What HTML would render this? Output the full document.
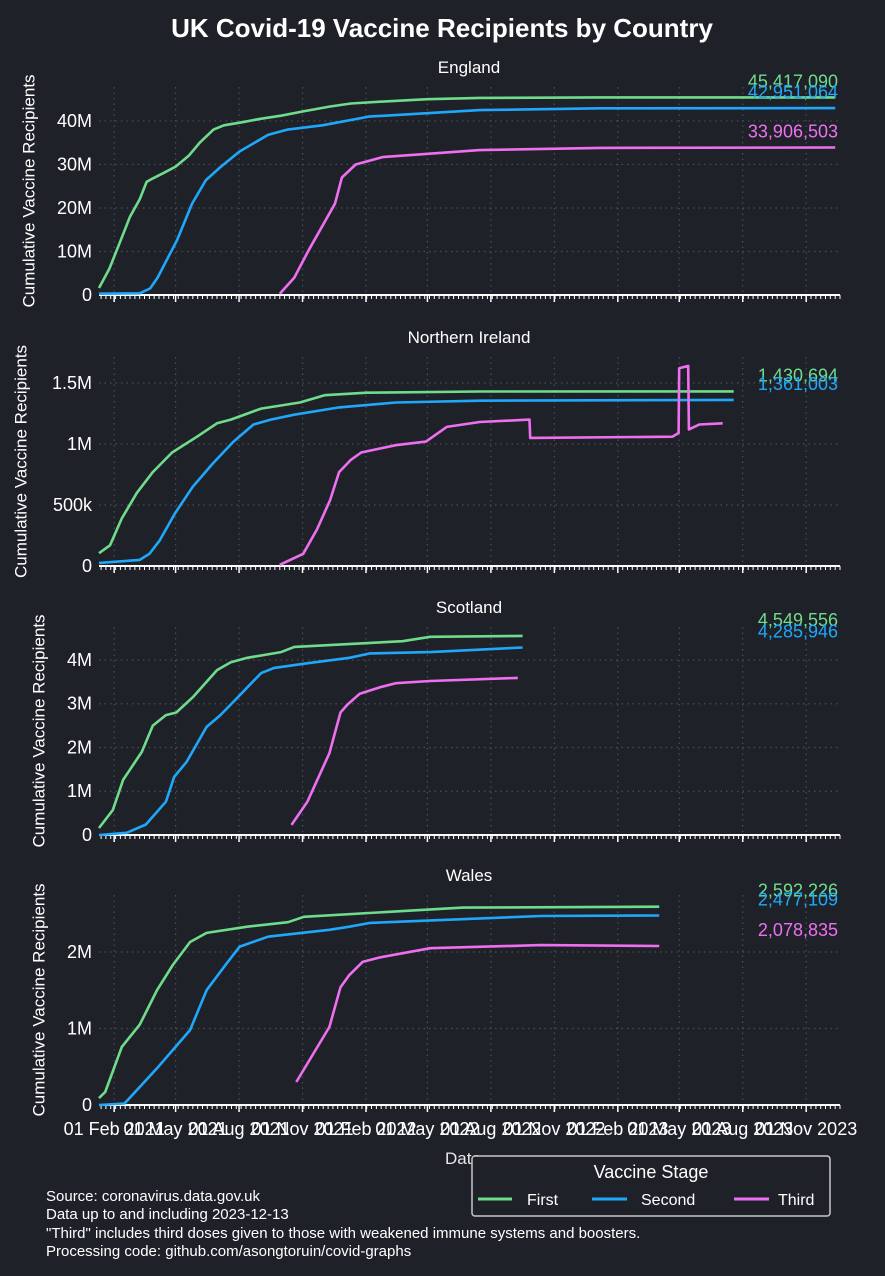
<!DOCTYPE html>
<html><head><meta charset="utf-8">
<style>
html,body{margin:0;padding:0;background:#1f2129;}
svg{display:block;font-family:"Liberation Sans",sans-serif;}
</style></head>
<body>
<svg id="chart" width="885" height="1276" viewBox="0 0 885 1276" xmlns="http://www.w3.org/2000/svg">
<rect x="0" y="0" width="885" height="1276" fill="#1f2129"/>
<text x="442" y="37" text-anchor="middle" font-size="26" font-weight="bold" fill="#ffffff">UK Covid-19 Vaccine Recipients by Country</text>
<g id="panels"></g>
<text x="463" y="1164" text-anchor="middle" font-size="17" fill="#e8e8e8">Date</text>
<g font-size="15" fill="#ffffff">
<text x="46" y="1201">Source: coronavirus.data.gov.uk</text>
<text x="46" y="1219">Data up to and including 2023-12-13</text>
<text x="46" y="1238">"Third" includes third doses given to those with weakened immune systems and boosters.</text>
<text x="46" y="1256">Processing code: github.com/asongtoruin/covid-graphs</text>
</g>
<g>
<rect x="472" y="1156" width="358" height="60" rx="3" fill="#1f2129" stroke="#c8c8c8" stroke-width="1.5"/>
<text x="651" y="1178" text-anchor="middle" font-size="18" fill="#ffffff">Vaccine Stage</text>
<line x1="478" y1="1199" x2="512" y2="1199" stroke="#6fdc8c" stroke-width="3"/>
<text x="527" y="1205" font-size="16" fill="#ffffff">First</text>
<line x1="592" y1="1199" x2="627" y2="1199" stroke="#1fa8fb" stroke-width="3"/>
<text x="641" y="1205" font-size="16" fill="#ffffff">Second</text>
<line x1="734" y1="1199" x2="769" y2="1199" stroke="#ee6ff0" stroke-width="3"/>
<text x="778" y="1205" font-size="16" fill="#ffffff">Third</text>
</g>
</svg>
<script>
// ---- data ----
const countries = ["England","Northern Ireland","Scotland","Wales"];
const tickDates = ["2021-02-01","2021-05-01","2021-08-01","2021-11-01","2022-02-01","2022-05-01","2022-08-01","2022-11-01","2023-02-01","2023-05-01","2023-08-01","2023-11-01"];
const tickLabels = ["01 Feb 2021","01 May 2021","01 Aug 2021","01 Nov 2021","01 Feb 2022","01 May 2022","01 Aug 2022","01 Nov 2022","01 Feb 2023","01 May 2023","01 Aug 2023","01 Nov 2023"];

const engYTicks = [0,10e6,20e6,30e6,40e6];
const engYLabels = ["0","10M","20M","30M","40M"];
const niYTicks = [0,0.5e6,1e6,1.5e6];
const niYLabels = ["0","500k","1M","1.5M"];
const scoYTicks = [0,1e6,2e6,3e6,4e6];
const scoYLabels = ["0","1M","2M","3M","4M"];
const walYTicks = [0,1e6,2e6];
const walYLabels = ["0","1M","2M"];

const engFirstDates = ["2021-01-10","2021-01-25","2021-02-09","2021-02-24","2021-03-10","2021-03-20","2021-03-29","2021-04-13","2021-05-01","2021-05-20","2021-06-05","2021-06-25","2021-07-10","2021-08-02","2021-09-01","2021-10-01","2021-11-02","2021-12-10","2022-01-10","2022-03-01","2022-05-01","2022-07-16","2023-01-06","2023-12-13"];
const engFirstVals = [1.6e6,6e6,12e6,18e6,22e6,26e6,26.8e6,28e6,29.5e6,32e6,35e6,38e6,39e6,39.6e6,40.5e6,41.2e6,42.2e6,43.3e6,44e6,44.5e6,45e6,45.3e6,45.4e6,45417090];
const engSecondDates = ["2021-01-10","2021-03-10","2021-03-25","2021-04-05","2021-05-03","2021-05-25","2021-06-14","2021-07-05","2021-08-02","2021-09-12","2021-10-10","2021-11-30","2022-02-05","2022-07-16","2023-01-06","2023-12-13"];
const engSecondVals = [0.3e6,0.4e6,1.5e6,4e6,12.6e6,21e6,26.4e6,29.4e6,33e6,36.8e6,38e6,39e6,41e6,42.5e6,42.9e6,42951064];
const engThirdDates = ["2021-09-29","2021-10-20","2021-11-10","2021-12-18","2021-12-28","2022-01-17","2022-02-25","2022-07-16","2023-01-06","2023-12-13"];
const engThirdVals = [0.3e6,4e6,10.3e6,21e6,27e6,30e6,31.7e6,33.3e6,33.8e6,33906503];

const niFirstDates = ["2021-01-10","2021-01-26","2021-02-12","2021-03-06","2021-03-29","2021-04-26","2021-06-01","2021-06-30","2021-07-20","2021-09-02","2021-10-28","2021-12-03","2022-02-02","2022-07-16","2023-07-19"];
const niFirstVals = [0.105e6,0.17e6,0.39e6,0.6e6,0.77e6,0.93e6,1.06e6,1.17e6,1.2e6,1.29e6,1.34e6,1.4e6,1.42e6,1.43e6,1430694];
const niSecondDates = ["2021-01-10","2021-03-10","2021-03-24","2021-04-08","2021-04-30","2021-05-26","2021-06-24","2021-07-24","2021-08-22","2021-09-16","2021-10-20","2021-12-24","2022-03-16","2022-07-16","2023-07-19"];
const niSecondVals = [0.025e6,0.05e6,0.1e6,0.21e6,0.43e6,0.65e6,0.84e6,1.02e6,1.16e6,1.2e6,1.24e6,1.3e6,1.34e6,1.355e6,1361003];
const niThirdDates = ["2021-09-29","2021-11-02","2021-11-22","2021-12-11","2021-12-24","2022-01-10","2022-01-25","2022-03-16","2022-04-29","2022-05-29","2022-07-16","2022-09-26","2022-09-27","2023-04-21","2023-04-30","2023-05-01","2023-05-14","2023-05-15","2023-05-30","2023-07-03"];
const niThirdVals = [0.01e6,0.1e6,0.3e6,0.54e6,0.77e6,0.87e6,0.93e6,0.99e6,1.02e6,1.14e6,1.18e6,1.2e6,1.05e6,1.06e6,1.09e6,1.62e6,1.64e6,1.12e6,1.16e6,1.17e6];

const scoFirstDates = ["2021-01-10","2021-01-30","2021-02-14","2021-03-13","2021-03-29","2021-04-17","2021-05-02","2021-05-26","2021-06-30","2021-07-20","2021-08-13","2021-10-01","2021-10-20","2022-03-26","2022-05-05","2022-09-16"];
const scoFirstVals = [0.16e6,0.57e6,1.26e6,1.9e6,2.5e6,2.74e6,2.8e6,3.15e6,3.77e6,3.95e6,4.05e6,4.18e6,4.3e6,4.43e6,4.53e6,4549556];
const scoSecondDates = ["2021-01-10","2021-02-19","2021-03-19","2021-04-17","2021-04-29","2021-05-17","2021-06-15","2021-07-05","2021-07-29","2021-09-02","2021-09-21","2021-11-10","2022-01-08","2022-02-07","2022-05-05","2022-09-16"];
const scoSecondVals = [0,0.05e6,0.24e6,0.76e6,1.33e6,1.67e6,2.47e6,2.74e6,3.13e6,3.7e6,3.82e6,3.93e6,4.05e6,4.15e6,4.18e6,4285946];
const scoThirdDates = ["2021-10-16","2021-11-08","2021-12-10","2021-12-26","2022-01-05","2022-01-23","2022-02-22","2022-03-16","2022-05-05","2022-09-09"];
const scoThirdVals = [0.23e6,0.76e6,1.87e6,2.8e6,2.98e6,3.23e6,3.38e6,3.47e6,3.52e6,3.59e6];

const walFirstDates = ["2021-01-10","2021-01-19","2021-02-12","2021-03-10","2021-04-04","2021-04-27","2021-05-22","2021-06-15","2021-08-13","2021-10-11","2021-11-03","2022-04-04","2022-06-22","2023-04-02"];
const walFirstVals = [0.09e6,0.17e6,0.76e6,1.05e6,1.5e6,1.83e6,2.13e6,2.25e6,2.33e6,2.39e6,2.46e6,2.54e6,2.58e6,2592226];
const walSecondDates = ["2021-01-10","2021-02-16","2021-04-04","2021-05-22","2021-06-15","2021-07-14","2021-08-02","2021-09-12","2021-12-10","2022-01-08","2022-02-07","2022-10-12","2023-04-02"];
const walSecondVals = [0,0.02e6,0.48e6,0.98e6,1.5e6,1.85e6,2.07e6,2.2e6,2.29e6,2.33e6,2.38e6,2.47e6,2477109];
const walThirdDates = ["2021-10-23","2021-12-10","2021-12-26","2022-01-08","2022-01-27","2022-02-22","2022-05-05","2022-10-12","2023-04-02"];
const walThirdVals = [0.3e6,1.02e6,1.54e6,1.7e6,1.87e6,1.93e6,2.05e6,2.09e6,2078835];

// ---- layout ----
const NS = "http://www.w3.org/2000/svg";
const X0 = 99, X1 = 840;
const D0 = Date.UTC(2021,0,10), D1 = Date.UTC(2023,11,20);
function xScale(ds){ const p = ds.split("-").map(Number); const t = Date.UTC(p[0],p[1]-1,p[2]); return X0 + (t-D0)/(D1-D0)*(X1-X0); }
const COLORS = {first:"#6fdc8c", second:"#1fa8fb", third:"#ee6ff0"};
const panelsCfg = [
 {name:"england", title:"England", bottom:295, top:87, max:47.8e6, yt:engYTicks, yl:engYLabels, ylabX:30, labels:["first","second","third"],
  series:[["first",engFirstDates,engFirstVals],["second",engSecondDates,engSecondVals],["third",engThirdDates,engThirdVals]]},
 {name:"northern-ireland", title:"Northern Ireland", bottom:566, top:357, max:1.713e6, yt:niYTicks, yl:niYLabels, ylabX:22, labels:["first","second"],
  series:[["first",niFirstDates,niFirstVals],["second",niSecondDates,niSecondVals],["third",niThirdDates,niThirdVals]]},
 {name:"scotland", title:"Scotland", bottom:835, top:627, max:4.754e6, yt:scoYTicks, yl:scoYLabels, ylabX:40, labels:["first","second"],
  series:[["first",scoFirstDates,scoFirstVals],["second",scoSecondDates,scoSecondVals],["third",scoThirdDates,scoThirdVals]]},
 {name:"wales", title:"Wales", bottom:1105, top:895, max:2.745e6, yt:walYTicks, yl:walYLabels, ylabX:40, labels:["first","second","third"],
  series:[["first",walFirstDates,walFirstVals],["second",walSecondDates,walSecondVals],["third",walThirdDates,walThirdVals]]}
];
const root = document.getElementById("panels");
function mk(tag, attrs, parent){ const e = document.createElementNS(NS, tag); for (const k in attrs) e.setAttribute(k, attrs[k]); (parent||root).appendChild(e); return e; }
function fmt(n){ return Math.round(n).toString().replace(/\B(?=(\d{3})+(?!\d))/g, ","); }

panelsCfg.forEach((P, pi) => {
  const g = mk("g", {});
  
  
  const yS = v => P.bottom - v / P.max * (P.bottom - P.top);
  tickDates.forEach(d => {
    const x = xScale(d);
    const l = mk("line", {x1:x, x2:x, y1:P.top, y2:P.bottom, stroke:"#4a4d56", "stroke-width":1.2, "stroke-dasharray":"1.5,4"}, g);
    
    
  });
  P.yt.forEach((v, i) => {
    const y = yS(v);
    if (v > 0) {
      const l = mk("line", {x1:X0, x2:X1, y1:y, y2:y, stroke:"#4a4d56", "stroke-width":1.2, "stroke-dasharray":"1.5,4"}, g);
      
      
    }
    const t = mk("text", {x:92, y:y+6, "text-anchor":"end", "font-size":18, fill:"#ffffff"}, g);
    t.textContent = P.yl[i];
    
    
  });
  const ax = mk("line", {x1:X0, x2:X1, y1:P.bottom, y2:P.bottom, stroke:"#ffffff", "stroke-width":2}, g);
  
  
  let path = "";
  for (let t = D0 + 3*86400000; t <= D1; t += 7*86400000) {
    const x = X0 + (t-D0)/(D1-D0)*(X1-X0);
    path += "M" + x.toFixed(1) + " " + P.bottom + "v4";
  }
  const mt = mk("path", {d:path, stroke:"#ffffff", "stroke-width":1}, g);
  
  
  tickDates.forEach((d, i) => {
    const x = xScale(d);
    const tk = mk("line", {x1:x, x2:x, y1:P.bottom, y2:P.bottom+7, stroke:"#ffffff", "stroke-width":1.5}, g);
    
    
    if (pi === 3) {
      const t = mk("text", {x:x, y:P.bottom+30, "text-anchor":"middle", "font-size":18, fill:"#ffffff"}, g);
      t.textContent = tickLabels[i];
      
      
    }
  });
  const ti = mk("text", {x:469, y:P.top-14, "text-anchor":"middle", "font-size":17, fill:"#ffffff"}, g);
  ti.textContent = P.title;
  
  
  const cy = (P.top + P.bottom) / 2;
  const yt = mk("text", {x:P.ylabX, y:cy, "text-anchor":"middle", "font-size":17, fill:"#ffffff", transform:"rotate(-90 " + P.ylabX + " " + cy + ")", "dominant-baseline":"middle"}, g);
  yt.textContent = "Cumulative Vaccine Recipients";
  
  
  P.series.forEach(([key, dates, vals]) => {
    const d = dates.map((dt, i) => (i ? "L" : "M") + xScale(dt).toFixed(1) + " " + yS(vals[i]).toFixed(1)).join("");
    const ln = mk("path", {d:d, fill:"none", stroke:COLORS[key], "stroke-width":2.6, "stroke-linejoin":"round"}, g);
    
    
    if (P.labels.indexOf(key) >= 0) {
      const last = vals[vals.length-1];
      const lb = mk("text", {x:838, y:yS(last)-16+6, "text-anchor":"end", "font-size":18, fill:COLORS[key]}, g);
      lb.textContent = fmt(last);
      
      
    }
  });
});
</script>
</body></html>
